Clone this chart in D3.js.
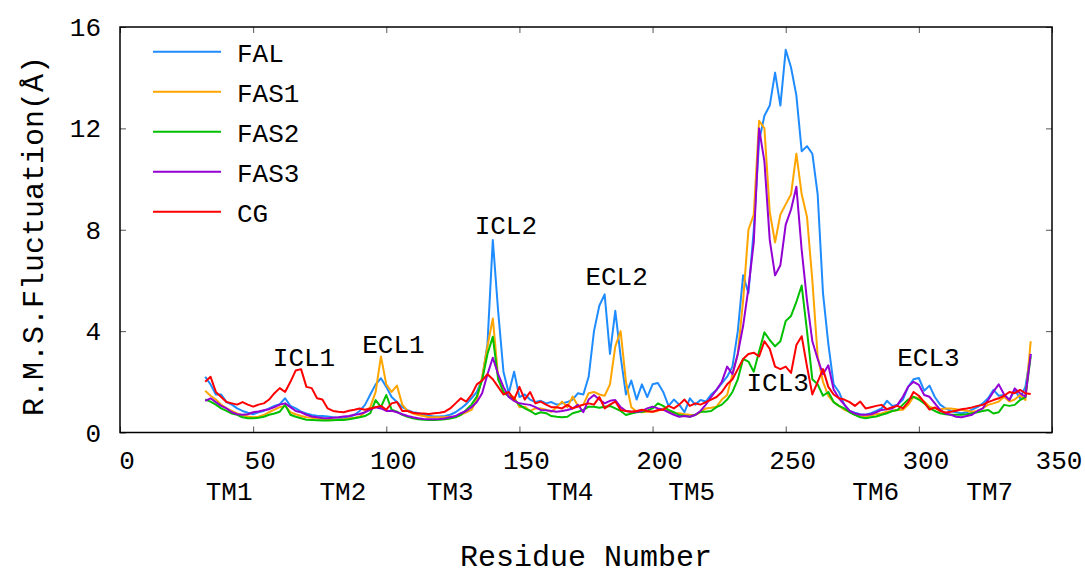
<!DOCTYPE html>
<html>
<head>
<meta charset="utf-8">
<script src="https://cdn.jsdelivr.net/npm/d3@7"></script>
<style>
  body { margin: 0; background: #fff; }
  text { font-family: "Courier New", "Liberation Mono", monospace; fill: #000; }
</style>
</head>
<body>
<div id="chart"></div>
<script>
/* RMSF per residue for the five systems */

// residue numbers, every second residue from 32 to 342
const residues = d3.range(32, 343, 2);

const FAL = [
  2.2, 1.9, 1.5, 1.5, 1.2, 1.1, 0.95, 0.85, 0.78, 0.72,
  0.8, 0.85, 0.95, 1.05, 1.12, 1.35, 1.05, 0.95, 0.82, 0.75,
  0.69, 0.66, 0.65, 0.63, 0.6, 0.58, 0.56, 0.62, 0.69, 0.85,
  1.09, 1.5, 1.9, 2.14, 1.8, 1.4, 1.2, 1.0, 0.88, 0.8,
  0.77, 0.7, 0.66, 0.63, 0.63, 0.65, 0.7, 0.8, 0.95, 1.12,
  1.35, 1.6, 2.1, 3.5, 7.6, 4.8, 2.4, 1.55, 2.4, 1.4,
  1.5, 1.3, 1.2, 1.25, 1.15, 1.2, 1.1, 1.15, 1.2, 1.3,
  1.55, 1.5, 2.2, 4.0, 5.0, 5.45, 3.1, 4.8, 3.0, 1.5,
  2.05, 1.3, 1.9, 1.4, 1.9, 1.95, 1.6, 1.05, 1.3, 1.1,
  0.8, 1.35, 1.1, 1.28, 1.22, 1.5, 1.68, 1.94, 2.2, 2.6,
  4.0, 6.2, 5.5, 8.0, 11.5, 12.5, 12.9, 14.2, 12.9, 15.1,
  14.4, 13.3, 11.1, 11.3, 11.0, 9.4, 5.5, 3.5, 1.9, 1.6,
  1.1, 0.85, 0.78, 0.72, 0.7, 0.76, 0.85, 0.95, 1.25, 1.05,
  1.09, 1.3, 1.8, 2.1, 2.15, 1.65, 1.85, 1.4, 1.1, 0.95,
  0.85, 0.8, 0.76, 0.8, 0.9, 1.0, 1.15, 1.35, 1.68, 1.45,
  1.48, 1.28, 1.68, 1.35, 1.8, 3.1
];

const FAS1 = [
  1.65, 1.45, 1.3, 1.1, 0.95, 0.85, 0.75, 0.68, 0.63, 0.6,
  0.62, 0.69, 0.8, 0.9, 1.0, 1.05, 0.8, 0.72, 0.65, 0.6,
  0.58, 0.55, 0.52, 0.49, 0.5, 0.5, 0.52, 0.55, 0.58, 0.62,
  0.8, 1.0, 1.6, 3.0, 1.9, 1.6, 1.85, 1.1, 0.85, 0.75,
  0.69, 0.65, 0.6, 0.6, 0.6, 0.6, 0.62, 0.62, 0.7, 0.8,
  0.89, 1.3, 2.2, 3.4, 4.5, 2.2, 1.6, 1.45, 1.4, 1.0,
  1.02, 0.85, 0.95, 0.95, 0.9, 0.82, 1.0, 1.22, 1.0, 1.42,
  1.05, 1.1, 1.55, 1.6, 1.5, 1.45, 1.9, 3.4, 4.0, 2.0,
  1.0, 0.83, 0.8, 0.82, 0.82, 0.85, 0.95, 0.85, 0.76, 0.76,
  0.72, 0.7, 0.69, 0.8, 0.95, 0.98, 1.02, 1.3, 1.48, 2.3,
  3.1, 5.2, 8.0, 8.6, 12.3, 12.0, 8.7, 7.5, 8.6, 9.0,
  9.4, 11.0, 9.4, 8.5, 6.0, 3.0, 2.0, 1.45, 1.2, 1.05,
  0.9, 0.82, 0.7, 0.63, 0.63, 0.68, 0.72, 0.75, 0.82, 0.85,
  0.89, 0.9, 1.09, 1.41, 1.35, 1.22, 1.02, 0.95, 0.92, 0.95,
  0.95, 0.92, 0.89, 0.86, 0.82, 0.85, 0.95, 1.09, 1.15, 1.22,
  1.41, 1.22, 1.3, 1.48, 1.28, 3.6
];

const FAS2 = [
  1.3, 1.22, 1.1, 0.95, 0.85, 0.75, 0.7, 0.6, 0.56, 0.56,
  0.58, 0.62, 0.7, 0.75, 0.82, 1.09, 0.7, 0.62, 0.56, 0.5,
  0.49, 0.48, 0.47, 0.47, 0.48, 0.49, 0.49, 0.52, 0.56, 0.6,
  0.65, 0.76, 1.28, 1.0, 1.48, 0.9, 0.82, 0.7, 0.62, 0.56,
  0.52, 0.5, 0.49, 0.49, 0.5, 0.52, 0.55, 0.6, 0.7, 0.89,
  1.1, 1.42, 2.07, 3.1, 3.78, 2.1, 1.6, 1.42, 1.3, 1.09,
  0.95, 0.85, 0.72, 0.8, 0.76, 0.65, 0.62, 0.6, 0.62, 0.76,
  0.82, 0.89, 1.02, 1.02, 0.98, 1.02, 1.05, 0.95, 0.85, 0.69,
  0.75, 0.8, 0.82, 0.86, 0.95, 1.15, 1.05, 0.89, 0.8, 0.69,
  0.66, 0.62, 0.7, 0.82, 0.82, 0.85, 1.0, 1.1, 1.3, 1.6,
  2.1, 2.9, 2.8, 2.4, 3.2, 3.95, 3.65, 3.4, 3.6, 4.4,
  4.6, 5.15, 5.8, 4.0, 2.1, 1.9, 1.45, 1.6, 1.2, 1.05,
  0.95, 0.8, 0.7, 0.6, 0.56, 0.6, 0.63, 0.7, 0.76, 0.85,
  0.89, 1.1, 1.3, 1.41, 1.3, 1.15, 0.95, 0.85, 0.76, 0.72,
  0.7, 0.7, 0.7, 0.72, 0.76, 0.8, 0.85, 0.89, 0.75, 0.8,
  1.09, 1.05, 1.09, 1.28, 1.4, 3.0
];

const FAS3 = [
  1.25, 1.35, 1.2, 1.05, 0.95, 0.8, 0.72, 0.7, 0.72, 0.8,
  0.83, 0.88, 0.92, 1.0, 1.1, 1.15, 1.0, 0.85, 0.8, 0.7,
  0.63, 0.6, 0.57, 0.56, 0.58, 0.6, 0.63, 0.65, 0.7, 0.73,
  0.8, 0.9, 1.0, 0.95, 0.85, 0.86, 0.8, 0.72, 0.65, 0.6,
  0.56, 0.53, 0.52, 0.52, 0.53, 0.55, 0.6, 0.65, 0.76, 0.85,
  1.0, 1.2, 1.55, 2.3, 2.95, 2.3, 1.8, 1.4, 1.25, 1.15,
  1.12, 1.09, 1.0, 0.89, 0.88, 0.85, 0.82, 0.85, 0.89, 0.95,
  1.09, 0.8, 1.3, 1.48, 1.3, 1.15, 1.25, 1.28, 1.0, 0.85,
  0.82, 0.82, 0.85, 0.95, 1.02, 0.95, 0.9, 0.8, 0.7, 0.62,
  0.65, 0.62, 0.69, 0.85, 1.1, 1.4, 1.68, 2.0, 2.6, 2.3,
  3.1, 4.2, 5.7, 7.5, 12.0, 10.7, 7.6, 6.2, 6.6, 8.2,
  8.8, 9.7, 7.2, 5.2, 3.6, 2.9, 2.3, 2.65, 1.7, 1.35,
  1.1, 0.85, 0.75, 0.7, 0.7, 0.72, 0.8, 0.89, 0.92, 0.95,
  1.1, 1.41, 1.81, 2.0, 1.88, 1.48, 1.41, 1.15, 0.89, 0.75,
  0.7, 0.62, 0.6, 0.65, 0.7, 0.85, 0.95, 1.28, 1.61, 1.9,
  1.5, 1.28, 1.74, 1.55, 1.41, 3.1
];

const CG = [
  2.0, 2.2, 1.6, 1.4, 1.2, 1.15, 1.1, 1.2, 1.1, 1.02,
  1.1, 1.15, 1.3, 1.55, 1.75, 1.6, 2.0, 2.45, 2.5, 1.8,
  1.75, 1.35, 1.3, 0.95, 0.85, 0.82, 0.8, 0.86, 0.9, 0.95,
  0.9, 0.95, 1.0, 1.05, 0.9, 1.15, 1.2, 0.85, 0.85, 0.78,
  0.75, 0.75, 0.73, 0.76, 0.78, 0.82, 0.95, 1.15, 1.35, 1.22,
  1.48, 1.9, 2.05, 2.3, 2.1, 1.8, 1.5, 1.6, 1.3, 1.8,
  1.3, 1.6, 1.15, 1.22, 1.1, 1.0, 1.0, 0.95, 1.09, 0.95,
  1.02, 1.1, 1.15, 1.1, 1.4, 0.95, 1.1, 1.22, 0.89, 0.85,
  0.82, 0.85, 0.9, 0.85, 0.82, 0.89, 0.9, 1.05, 0.95, 1.1,
  1.3, 1.05, 1.15, 1.1, 1.2, 1.3, 1.4, 1.6, 1.9, 2.1,
  2.5, 2.9, 3.1, 3.15, 3.0, 3.6, 3.3, 2.6, 2.5, 2.6,
  2.35, 3.45, 3.8, 2.6, 1.5, 2.0, 2.5, 1.8, 1.5, 1.35,
  1.3, 1.2, 1.05, 1.22, 0.95, 1.0, 1.05, 1.09, 0.92, 1.0,
  1.05, 0.95, 1.2, 1.6, 1.45, 1.2, 0.9, 0.99, 0.85, 0.79,
  0.82, 0.86, 0.92, 0.95, 0.99, 1.05, 1.09, 1.2, 1.28, 1.35,
  1.45, 1.6, 1.55, 1.68, 1.55, 1.52
];

const seriesNames = ["FAL", "FAS1", "FAS2", "FAS3", "CG"];
const seriesValues = [FAL, FAS1, FAS2, FAS3, CG];
const seriesColors = ["#1e8cff", "#ffa500", "#00c000", "#9400d3", "#ff0000"];

const xTicks = [0, 50, 100, 150, 200, 250, 300, 350];
const yTicks = [0, 4, 8, 12, 16];

// helix labels under the axis (residue position)
const tmLabels = ["TM1", "TM2", "TM3", "TM4", "TM5", "TM6", "TM7"];
const tmPos = [41, 83.7, 124, 169, 214.7, 283.8, 326.6];

// loop labels inside the plot (residue, value)
const loopLabels = ["ICL1", "ECL1", "ICL2", "ECL2", "ICL3", "ECL3"];
const loopX = [69.1, 102.7, 144.9, 186.5, 247.0, 303.6];
const loopY = [2.62, 3.13, 7.85, 5.83, 1.65, 2.64];

const width = 1085,
      height = 574,
      margin = ({top: 27, right: 33, bottom: 141.5, left: 120});

let svg = d3.select("#chart")
    .append("svg")
    .attr("width", width)
    .attr("height", height)
    .attr("viewBox", [0, 0, width, height]);

let x = d3.scaleLinear()
    .domain([0, 350])
    .range([margin.left, width - margin.right]);

let y = d3.scaleLinear()
    .domain([0, 16])
    .range([height - margin.bottom, margin.top]);

const tickLen = 6;

// ticks, inward on all four sides
svg.append("g")
    .attr("transform", `translate(0, ${y(0)})`)
    .call(d3.axisBottom(x).tickValues(xTicks).tickSize(-tickLen).tickFormat(""))
    .call(g => g.select(".domain").remove())
    .call(g => g.selectAll("line").attr("stroke", "#555"));

svg.append("g")
    .attr("transform", `translate(0, ${y(16)})`)
    .call(d3.axisTop(x).tickValues(xTicks).tickSize(-tickLen).tickFormat(""))
    .call(g => g.select(".domain").remove())
    .call(g => g.selectAll("line").attr("stroke", "#555"));

svg.append("g")
    .attr("transform", `translate(${x(0)}, 0)`)
    .call(d3.axisLeft(y).tickValues(yTicks).tickSize(-tickLen).tickFormat(""))
    .call(g => g.select(".domain").remove())
    .call(g => g.selectAll("line").attr("stroke", "#555"));

svg.append("g")
    .attr("transform", `translate(${x(350)}, 0)`)
    .call(d3.axisRight(y).tickValues(yTicks).tickSize(-tickLen).tickFormat(""))
    .call(g => g.select(".domain").remove())
    .call(g => g.selectAll("line").attr("stroke", "#555"));

// tick labels
svg.append("g")
    .selectAll("text")
    .data(xTicks)
    .join("text")
    .attr("x", d => x(d) + 7)
    .attr("y", 469)
    .attr("text-anchor", "middle")
    .style("font-size", "26px")
    .text(d => d);

svg.append("g")
    .selectAll("text")
    .data(yTicks)
    .join("text")
    .attr("x", x(0) - 19)
    .attr("y", d => y(d) + 9)
    .attr("text-anchor", "end")
    .style("font-size", "26px")
    .text(d => d);

// TM labels
svg.append("g")
    .selectAll("text")
    .data(tmLabels)
    .join("text")
    .attr("x", (d, i) => x(tmPos[i]))
    .attr("y", 500)
    .attr("text-anchor", "middle")
    .style("font-size", "26px")
    .text(d => d);

// lines
let line = d3.line()
    .x((d, i) => x(residues[i]))
    .y(d => y(d));

svg.append("g")
    .selectAll("path")
    .data(seriesValues)
    .join("path")
    .attr("fill", "none")
    .attr("stroke", (d, i) => seriesColors[i])
    .attr("stroke-width", 2)
    .attr("stroke-linejoin", "round")
    .attr("d", line);

// loop labels
svg.append("g")
    .selectAll("text")
    .data(loopLabels)
    .join("text")
    .attr("x", (d, i) => x(loopX[i]))
    .attr("y", (d, i) => y(loopY[i]))
    .attr("text-anchor", "middle")
    .style("font-size", "26px")
    .text(d => d);

// frame
svg.append("rect")
    .attr("x", x(0))
    .attr("y", y(16))
    .attr("width", x(350) - x(0))
    .attr("height", y(0) - y(16))
    .attr("fill", "none")
    .attr("stroke", "#000")
    .attr("stroke-width", 1.5);

// legend
let legend = svg.append("g")
    .selectAll("g")
    .data(seriesNames)
    .join("g")
    .attr("transform", (d, i) => `translate(153, ${51.7 + i * 40})`);

legend.append("line")
    .attr("x1", 0)
    .attr("x2", 68)
    .attr("stroke", (d, i) => seriesColors[i])
    .attr("stroke-width", 2);

legend.append("text")
    .attr("x", 84)
    .attr("y", 10)
    .style("font-size", "26px")
    .text(d => d);

// axis titles
svg.append("text")
    .attr("x", (x(0) + x(350)) / 2)
    .attr("y", 566)
    .attr("text-anchor", "middle")
    .style("font-size", "30px")
    .text("Residue Number");

svg.append("text")
    .attr("transform", `translate(43, 236) rotate(-90)`)
    .attr("text-anchor", "middle")
    .style("font-size", "30px")
    .text("R.M.S.Fluctuation(Å)");
</script>
</body>
</html>
